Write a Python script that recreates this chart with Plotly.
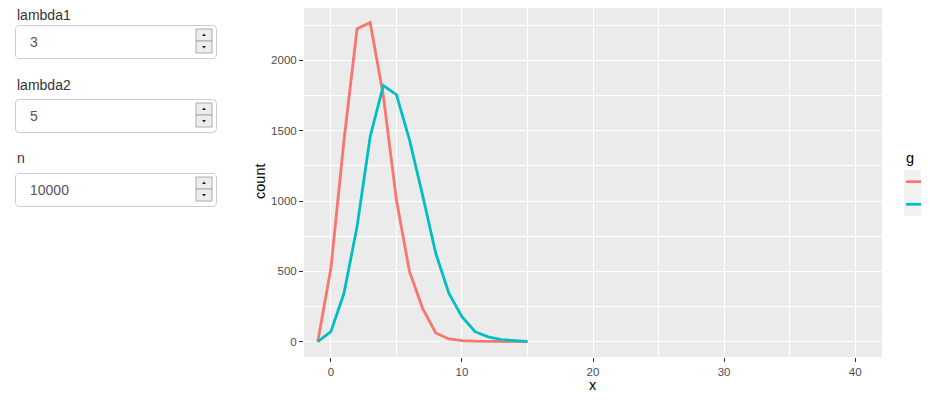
import plotly.graph_objects as go

# ---- data ----
x_vals = list(range(-1, 16))
lambda1_counts = [0, 520, 1430, 2225, 2268, 1750, 1008, 498, 237, 62, 19, 8, 4, 2, 1, 0, 0]
lambda2_counts = [0, 71, 344, 818, 1459, 1820, 1756, 1435, 1040, 629, 344, 178, 71, 34, 15, 6, 2]
x_ticks = [0, 10, 20, 30, 40]
y_ticks = [0, 500, 1000, 1500, 2000]
inputs = [("lambda1", "3"), ("lambda2", "5"), ("n", "10000")]

RED = "#F8766D"
TEAL = "#00BFC4"
OFF = 8            # page body margin in the browser
W, H = 929 - OFF, 400 - OFF
FONT = "Liberation Sans, Arial, sans-serif"


def px(x):
    return (x - OFF) / W


def py(y):
    return min(1.0, max(0.0, 1 - (y - OFF) / H))


fig = go.Figure()
fig.add_trace(go.Scatter(x=x_vals, y=lambda1_counts, mode="lines",
                         line=dict(color=RED, width=2.8), showlegend=False))
fig.add_trace(go.Scatter(x=x_vals, y=lambda2_counts, mode="lines",
                         line=dict(color=TEAL, width=2.8), showlegend=False))

axis_common = dict(
    showgrid=True, gridcolor="white", gridwidth=1.1,
    ticks="outside", ticklen=4, tickwidth=1.1, tickcolor="#333333",
    tickfont=dict(family=FONT, size=11.5, color="#4D4D4D"),
    zeroline=False, showline=False,
)

fig.update_xaxes(range=[-2.05, 42.05], tickvals=x_ticks,
                 domain=[px(304), px(882)],
                 minor=dict(tickvals=[5, 15, 25, 35], showgrid=True,
                            gridcolor="white", gridwidth=0.55, ticks=""),
                 **axis_common)
# panel top clipped at page offset (8px): keep the same pixel scale
fig.update_yaxes(range=[-109, 2372], tickvals=y_ticks,
                 domain=[py(357), py(8)],
                 minor=dict(tickvals=[250, 750, 1250, 1750, 2250], showgrid=True,
                            gridcolor="white", gridwidth=0.55, ticks=""),
                 **axis_common)

shapes = []
annotations = []


def text_at(x, y, text, size=14.5, color="black", xanchor="center", angle=0):
    annotations.append(dict(x=px(x), y=py(y), xref="paper", yref="paper",
                            text=text, textangle=angle, showarrow=False,
                            xanchor=xanchor, yanchor="middle",
                            font=dict(family=FONT, size=size, color=color)))


# axis titles
text_at(260, 182, "count", angle=-90)
text_at(592.5, 385, "x")

# legend (drawn manually)
text_at(904, 158, "g", xanchor="left")
shapes.append(dict(type="rect", xref="paper", yref="paper",
                   x0=px(904), x1=px(927), y0=py(216), y1=py(170),
                   fillcolor="#F2F2F2", line=dict(width=0), layer="below"))
for yy, col in [(181.7, RED), (204.3, TEAL)]:
    shapes.append(dict(type="line", xref="paper", yref="paper",
                       x0=px(906), x1=px(925), y0=py(yy), y1=py(yy),
                       line=dict(color=col, width=2.7)))


def rounded_rect(x0, y0, x1, y1, r):
    def P(x, y):
        return f"{px(x):.5f},{py(y):.5f}"
    return (f"M {P(x0 + r, y0)} L {P(x1 - r, y0)} Q {P(x1, y0)} {P(x1, y0 + r)} "
            f"L {P(x1, y1 - r)} Q {P(x1, y1)} {P(x1 - r, y1)} "
            f"L {P(x0 + r, y1)} Q {P(x0, y1)} {P(x0, y1 - r)} "
            f"L {P(x0, y0 + r)} Q {P(x0, y0)} {P(x0 + r, y0)} Z")


# shiny-like numeric inputs
label_y = [15, 85, 158]
box_top = [25, 99, 173]
for (lab, val), ly, bt in zip(inputs, label_y, box_top):
    text_at(15, ly, lab, size=14, color="#333333", xanchor="left")
    shapes.append(dict(type="path", xref="paper", yref="paper",
                       path=rounded_rect(15.5, bt + 0.5, 216.5, bt + 33.5, 4),
                       fillcolor="white", line=dict(color="#CCCCCC", width=1)))
    text_at(28, bt + 17, val, size=14, color="#555555", xanchor="left")
    for (t0, t1, up) in [(bt + 4, bt + 16, True), (bt + 16, bt + 28, False)]:
        shapes.append(dict(type="rect", xref="paper", yref="paper",
                           x0=px(196), x1=px(212), y0=py(t1), y1=py(t0),
                           fillcolor="#EDEDED", line=dict(color="#9A9A9A", width=0.8)))
        cx = 204
        cy = (t0 + t1) / 2
        if up:
            tri = (f"M {px(cx-2):.5f},{py(cy+1):.5f} L {px(cx+2):.5f},{py(cy+1):.5f} "
                   f"L {px(cx):.5f},{py(cy-1.5):.5f} Z")
        else:
            tri = (f"M {px(cx-2):.5f},{py(cy-1):.5f} L {px(cx+2):.5f},{py(cy-1):.5f} "
                   f"L {px(cx):.5f},{py(cy+1.5):.5f} Z")
        shapes.append(dict(type="path", xref="paper", yref="paper", path=tri,
                           fillcolor="#222222", line=dict(width=0)))

fig.update_layout(
    width=W, height=H,
    margin=dict(l=0, r=0, t=0, b=0),
    paper_bgcolor="white",
    plot_bgcolor="#EBEBEB",
    showlegend=False,
    shapes=shapes,
    annotations=annotations,
    font=dict(family=FONT),
)

fig.write_html("out.html")
